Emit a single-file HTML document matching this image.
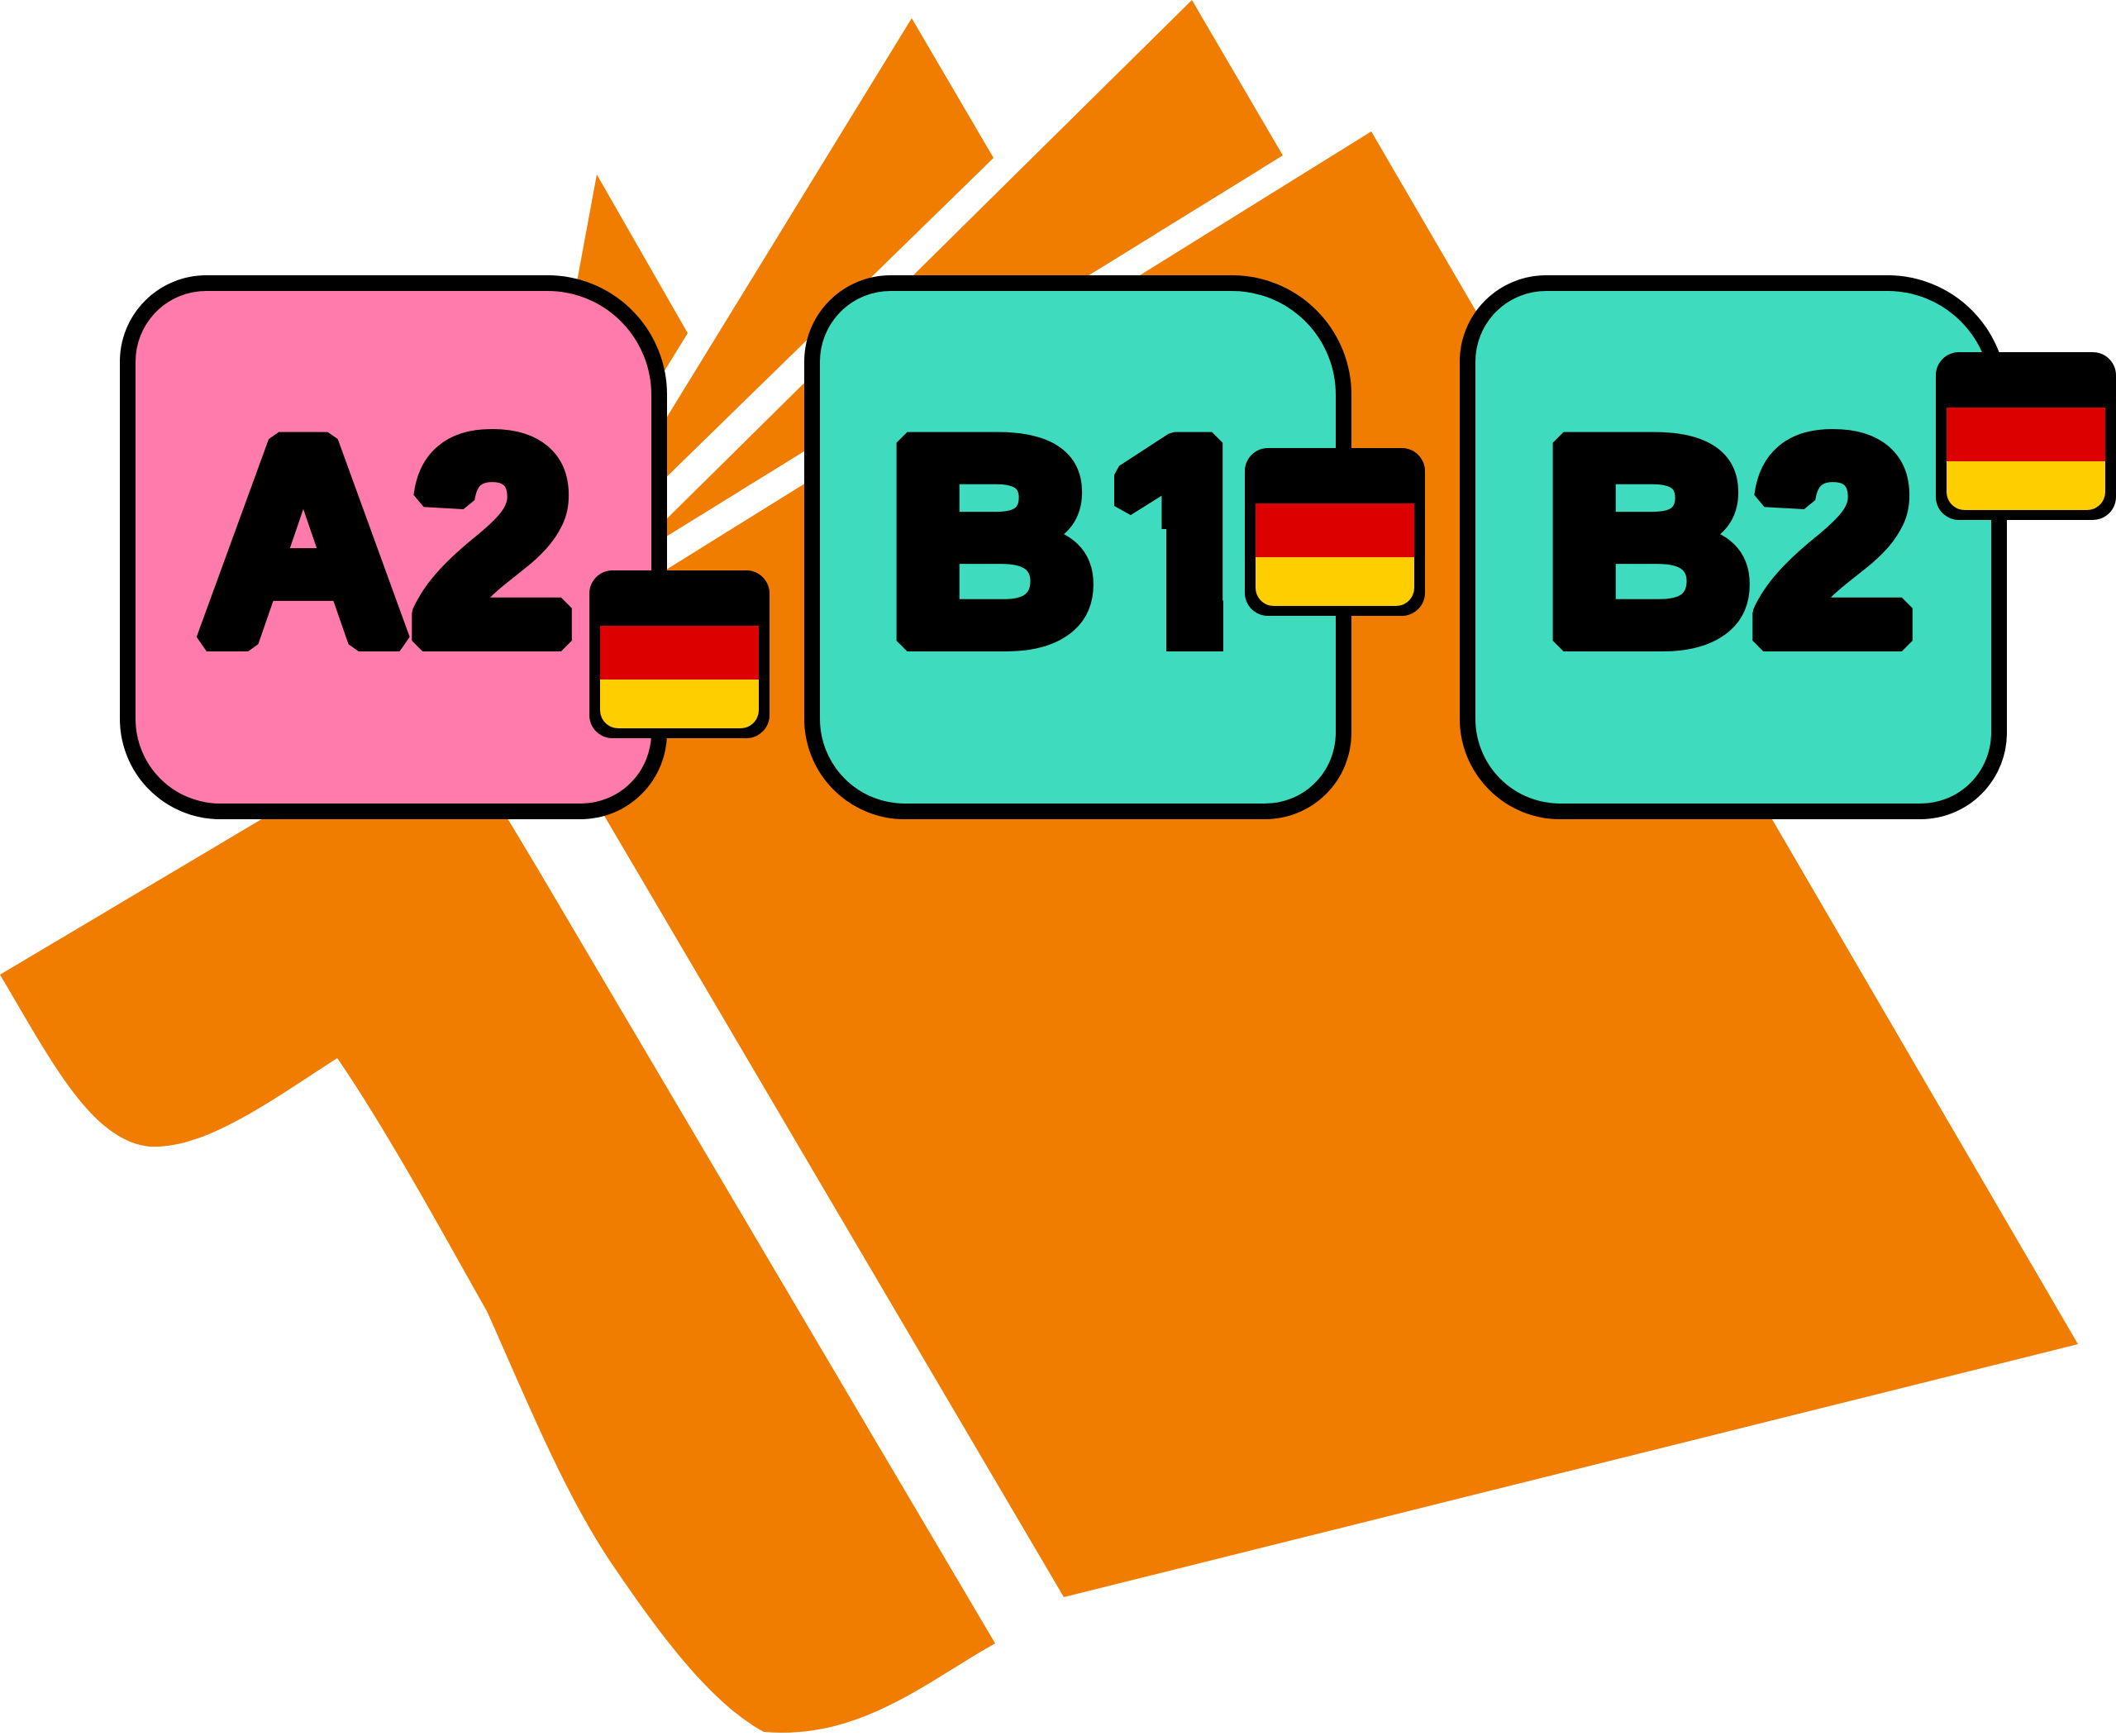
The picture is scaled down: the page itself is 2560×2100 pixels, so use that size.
<!DOCTYPE html>
<html><head><meta charset="utf-8"><style>
html,body{margin:0;padding:0;background:#fff;}
svg{display:block;}
</style></head><body>
<svg width="2560" height="2100" viewBox="0 0 2560 2100" xmlns="http://www.w3.org/2000/svg">
<defs>
<g id="flag">
<rect x="0" y="0" width="218" height="203" rx="28" fill="#000"/>
<rect x="13" y="67" width="192" height="65" fill="#DD0000"/>
<path d="M13,132 h192 v37 a22,22 0 0 1 -22,22 h-148 a22,22 0 0 1 -22,-22 z" fill="#FFCE00"/>
</g>
<clipPath id="one">
<polygon points="1348,480 1480,480 1480,800 1411,800 1411,640 1348,640"/>
</clipPath>
</defs>
<g fill="#F07D00">
<polygon points="722,211 832,403 760,520 650,600"/>
<polygon points="1103,22 1202,191 790,593 790,532"/>
<polygon points="1442,0 1552,188 790,659 790,644"/>
<polygon points="1659,159 2514,1626 1287,1932 700,934 700,755"/>
<path d="M0,1179 L520,870 L560,900 L650,1050 L1204,1988 C1120,2035 1040,2105 924,2095 C860,2060 800,1980 737,1887 C680,1800 640,1700 589,1586 C540,1500 470,1370 408,1280 C330,1330 250,1390 181,1387 C110,1380 60,1280 0,1179 Z"/>
</g>
<g stroke="#000" stroke-width="19">
<path fill="#FF7BAC" d="M249.5,342.5 H662.5 A135,135 0 0 1 797.5,477.5 V886.5 A95,95 0 0 1 702.5,981.5 H266.5 A112,112 0 0 1 154.5,869.5 V437.5 A95,95 0 0 1 249.5,342.5Z"/>
<path fill="#3EDBBE" d="M1077.5,342.5 H1490.5 A135,135 0 0 1 1625.5,477.5 V886.5 A95,95 0 0 1 1530.5,981.5 H1094.5 A112,112 0 0 1 982.5,869.5 V437.5 A95,95 0 0 1 1077.5,342.5Z"/>
<path fill="#3EDBBE" d="M1870.5,342.5 H2283.5 A135,135 0 0 1 2418.5,477.5 V886.5 A95,95 0 0 1 2323.5,981.5 H1887.5 A112,112 0 0 1 1775.5,869.5 V437.5 A95,95 0 0 1 1870.5,342.5Z"/>
</g>
<g font-family="'Liberation Sans', sans-serif" font-weight="bold" font-size="348" fill="#000" stroke="#000" stroke-width="26" stroke-linejoin="bevel" text-anchor="middle">
<text x="367" y="775">A</text>
<text x="596" y="775">2</text>
<text x="1200" y="775">B</text>
<text x="1434" y="775" clip-path="url(#one)">1</text>
<text x="1994" y="775">B</text>
<text x="2218" y="775">2</text>
</g>
<use href="#flag" x="713" y="690"/>
<use href="#flag" x="1506" y="542"/>
<use href="#flag" x="2342" y="426"/>
</svg>
</body></html>
